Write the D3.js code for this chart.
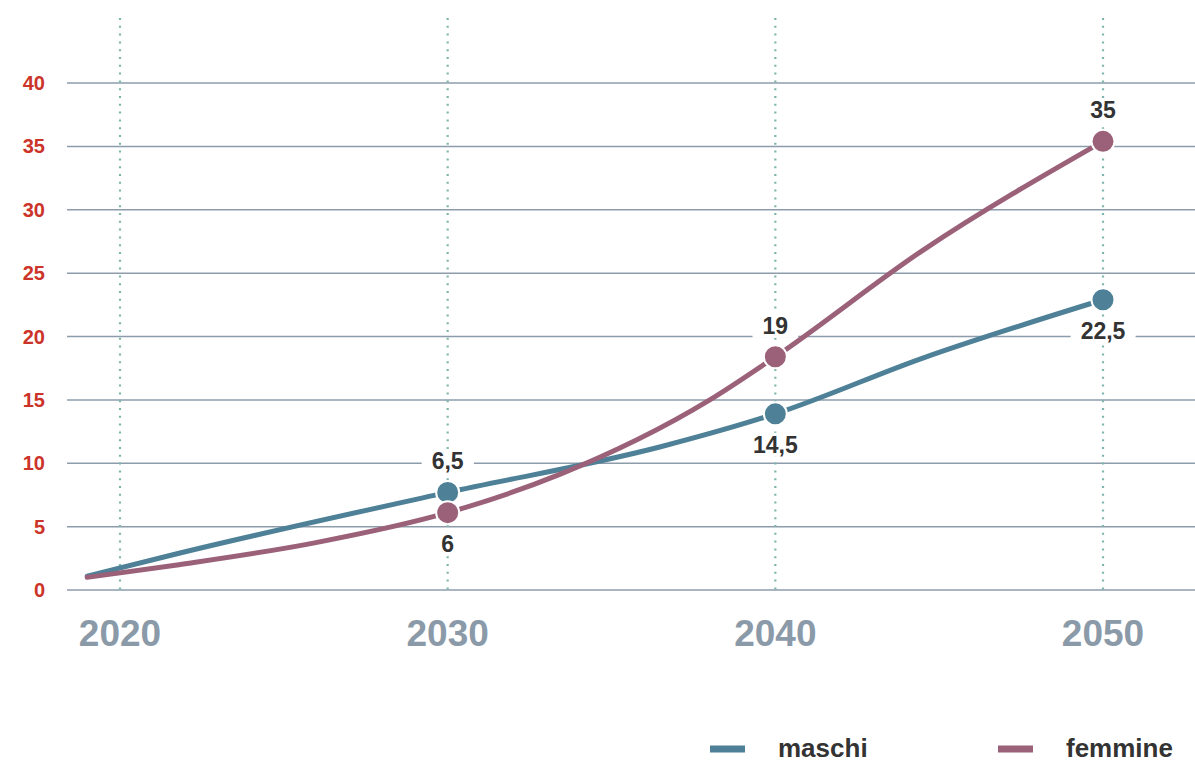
<!DOCTYPE html>
<html>
<head>
<meta charset="utf-8">
<script src="https://cdn.jsdelivr.net/npm/d3@7"></script>
<style>
	body { margin: 0; background: #fff; }
	svg { display: block; font-family: "Liberation Sans", Arial, sans-serif; font-weight: bold; }
</style>
</head>
<body>
<svg id="chart" width="1195" height="762"></svg>
<script>
"use strict";

//values
var xYears = [2020, 2030, 2040, 2050];
var yTicks = [0, 5, 10, 15, 20, 25, 30, 35, 40];

//points along each curve, [year, value]
var maschiLine = [[2019, 1.1], [2021.8, 2.9], [2030, 7.7], [2036.5, 11.3], [2040, 13.9], [2044.5, 18.3], [2050, 22.9]];
var femmineLine = [[2019, 1.0], [2021.8, 2.0], [2025.9, 3.7], [2030, 6.1], [2033.4, 9.1], [2038, 15.0], [2040, 18.4], [2044.5, 26.8], [2050, 35.4]];

//marked points and the labels printed next to them
var dotYears = [2030, 2040, 2050];
var maschiDots = [7.7, 13.9, 22.9];
var femmineDots = [6.1, 18.4, 35.4];
var maschiLabels = ["6,5", "14,5", "22,5"];
var femmineLabels = ["6", "19", "35"];

var seriesNames = ["maschi", "femmine"];
var seriesColors = ["#4e8197", "#9b6178"];

var svg = d3.select("#chart");

var x = d3.scaleLinear().domain([2020, 2050]).range([120, 1103]);
var y = d3.scaleLinear().domain([0, 40]).range([590, 83]);

//horizontal grid
svg.selectAll(".hgrid")
	.data(yTicks)
	.enter()
	.append("line")
	.attr("class", "hgrid")
	.style("stroke", "#8d9cab")
	.style("stroke-width", "1.5px")
	.attr("x1", 67)
	.attr("x2", 1195)
	.attr("y1", function(d){ return y(d)})
	.attr("y2", function(d){ return y(d)});

//y labels
svg.selectAll(".ylabel")
	.data(yTicks)
	.enter()
	.append("text")
	.attr("class", "ylabel")
	.style("fill", "#cc3329")
	.style("font-size", "20px")
	.attr("text-anchor", "end")
	.attr("x", 45)
	.attr("y", function(d){ return y(d) + 7})
	.text(function(d){ return d});

//dotted verticals at each decade
svg.selectAll(".vgrid")
	.data(xYears)
	.enter()
	.append("line")
	.attr("class", "vgrid")
	.style("stroke", "#7db5ac")
	.style("stroke-width", "2.2px")
	.style("stroke-dasharray", "2,5.8")
	.attr("x1", function(d){ return x(d)})
	.attr("x2", function(d){ return x(d)})
	.attr("y1", 18)
	.attr("y2", 590);

//x labels
svg.selectAll(".xlabel")
	.data(xYears)
	.enter()
	.append("text")
	.attr("class", "xlabel")
	.style("fill", "#8b9aa8")
	.style("font-size", "37px")
	.attr("text-anchor", "middle")
	.attr("x", function(d){ return x(d)})
	.attr("y", 646)
	.text(function(d){ return d});

var line = d3.line()
	.curve(d3.curveMonotoneX)
	.x(function(d){ return x(d[0])})
	.y(function(d){ return y(d[1])});

var lines = [maschiLine, femmineLine];
svg.selectAll(".serie")
	.data(lines)
	.enter()
	.append("path")
	.attr("class", "serie")
	.style("fill", "none")
	.style("stroke", function(d, i){ return seriesColors[i]})
	.style("stroke-width", "5px")
	.style("stroke-linecap", "round")
	.attr("d", line);

//build one record per marked point; the higher series gets its label above
var points = [];
dotYears.forEach(function(yr, i){
	var m = maschiDots[i], f = femmineDots[i];
	points.push({year: yr, value: m, label: maschiLabels[i], color: seriesColors[0], above: m > f});
	points.push({year: yr, value: f, label: femmineLabels[i], color: seriesColors[1], above: f > m});
});

var labels = svg.selectAll(".dlabel")
	.data(points)
	.enter()
	.append("g")
	.attr("class", "dlabel")
	.attr("transform", function(d){ return "translate(" + x(d.year) + "," + (y(d.value) + (d.above ? -31 : 31)) + ")"});

labels.append("text")
	.style("fill", "#333")
	.style("font-size", "23px")
	.attr("text-anchor", "middle")
	.attr("y", 8)
	.text(function(d){ return d.label});

//white box behind each label hides the grid
labels.each(function(){
	var g = d3.select(this);
	var bb = g.select("text").node().getBBox();
	g.insert("rect", "text")
		.style("fill", "#fff")
		.attr("x", bb.x - 10)
		.attr("y", -12)
		.attr("width", bb.width + 20)
		.attr("height", 24);
});

svg.selectAll(".dot")
	.data(points)
	.enter()
	.append("circle")
	.attr("class", "dot")
	.style("fill", function(d){ return d.color})
	.style("stroke", "#fff")
	.style("stroke-width", "2px")
	.attr("cx", function(d){ return x(d.year)})
	.attr("cy", function(d){ return y(d.value)})
	.attr("r", 11.5);

//legend
var legendX = [710, 998];
var legend = svg.selectAll(".legend")
	.data(seriesNames)
	.enter()
	.append("g")
	.attr("class", "legend")
	.attr("transform", function(d, i){ return "translate(" + legendX[i] + ",749)"});

legend.append("line")
	.style("stroke", function(d, i){ return seriesColors[i]})
	.style("stroke-width", "7px")
	.attr("x1", 0)
	.attr("x2", 35)
	.attr("y1", 0)
	.attr("y2", 0);

legend.append("text")
	.style("fill", "#333")
	.style("font-size", "26px")
	.attr("x", 68)
	.attr("y", 8)
	.text(function(d){ return d});
</script>
</body>
</html>
